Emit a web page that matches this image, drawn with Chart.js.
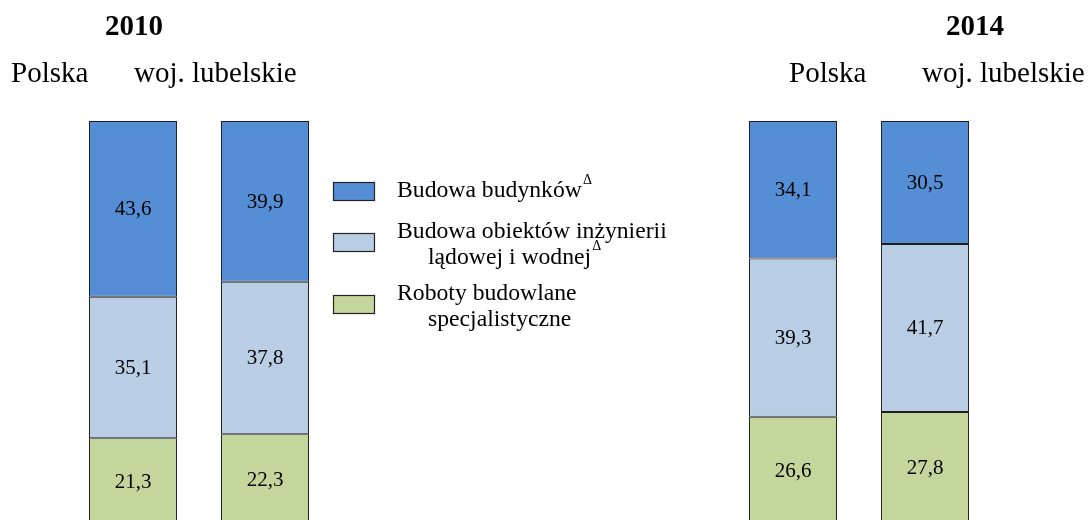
<!DOCTYPE html>
<html lang="pl">
<head>
<meta charset="utf-8">
<script src="https://cdn.jsdelivr.net/npm/chart.js@4"></script>
<style>
  html, body { margin: 0; padding: 0; background: #fff; overflow: hidden; }
  canvas { display: block; }
</style>
</head>
<body>
<canvas id="myChart" width="1088" height="524"></canvas>
<script>
/*
-------------------------------------
/// data
-------------------------------------
*/
const years = ['2010', '2014'];
const regions = ['Polska', 'woj. lubelskie'];

// struktura w %: 2010 Polska, 2010 lubelskie, 2014 Polska, 2014 lubelskie
const budynki = [43.6, 39.9, 34.1, 30.5];
const inzynieria = [35.1, 37.8, 39.3, 41.7];
const specjalistyczne = [21.3, 22.3, 26.6, 27.8];

const seriesNames = [
  ['Budowa budynków'],
  ['Budowa obiektów inżynierii', 'lądowej i wodnej'],
  ['Roboty budowlane', 'specjalistyczne']
];
const seriesDelta = [true, true, false];
const seriesColors = ['#558ed5', '#b9cde5', '#c3d69b'];

/*
-------------------------------------
/// slots (gap between years)
-------------------------------------
*/
const GAP = 3;
let labels = [];
years.forEach((y, yi) => {
  regions.forEach(r => labels.push(r));
  if (yi < years.length - 1) for (let g = 0; g < GAP; g++) labels.push('');
});

function spread(values) {
  let out = [];
  let k = 0;
  years.forEach((y, yi) => {
    regions.forEach(() => out.push(values[k++]));
    if (yi < years.length - 1) for (let g = 0; g < GAP; g++) out.push(null);
  });
  return out;
}

const SERIF = "'Liberation Serif', 'Times New Roman', serif";

/*
-------------------------------------
/// value labels inside segments
-------------------------------------
*/
const valueLabels = {
  id: 'valueLabels',
  afterDatasetsDraw(chart) {
    const ctx = chart.ctx;
    ctx.save();
    ctx.font = '21px ' + SERIF;
    ctx.fillStyle = '#000';
    ctx.textAlign = 'center';
    ctx.textBaseline = 'middle';
    chart.data.datasets.forEach((ds, di) => {
      const meta = chart.getDatasetMeta(di);
      meta.data.forEach((bar, i) => {
        const v = ds.data[i];
        if (v == null) return;
        ctx.fillText(v.toFixed(1).replace('.', ','), bar.x, (bar.y + bar.base) / 2 + 1);
      });
    });
    ctx.restore();
  }
};

/*
-------------------------------------
/// headers: years and regions
-------------------------------------
*/
const headers = {
  id: 'headers',
  afterDraw(chart) {
    const ctx = chart.ctx;
    ctx.save();
    ctx.fillStyle = '#000';
    ctx.textBaseline = 'middle';

    ctx.font = 'bold 29px ' + SERIF;
    ctx.textAlign = 'center';
    ctx.fillText(years[0], 134, 28);
    ctx.fillText(years[1], 975, 28);

    ctx.font = '29px ' + SERIF;
    ctx.textAlign = 'left';
    ctx.fillText(regions[0], 11, 74);
    ctx.fillText(regions[1], 134, 74);
    ctx.fillText(regions[0], 789, 74);
    ctx.fillText(regions[1], 922, 74);
    ctx.restore();
  }
};

/*
-------------------------------------
/// legend in the middle
-------------------------------------
*/
const middleLegend = {
  id: 'middleLegend',
  afterDraw(chart) {
    const ctx = chart.ctx;
    const swatchY = [182, 233, 295];
    const textY = [191, 232, 294];
    ctx.save();
    ctx.textBaseline = 'middle';
    ctx.textAlign = 'left';
    seriesNames.forEach((lines, i) => {
      ctx.fillStyle = seriesColors[i];
      ctx.fillRect(333, swatchY[i], 42, 19);
      ctx.strokeStyle = '#222';
      ctx.lineWidth = 1.2;
      ctx.strokeRect(333.5, swatchY[i] + 0.5, 41, 18);

      ctx.fillStyle = '#000';
      lines.forEach((line, li) => {
        const x = li === 0 ? 397 : 428;
        const y = textY[i] + li * 25.5;
        ctx.font = '23.7px ' + SERIF;
        ctx.fillText(line, x, y);
        if (seriesDelta[i] && li === lines.length - 1) {
          const w = ctx.measureText(line).width;
          ctx.font = '14px ' + SERIF;
          ctx.fillText('\u0394', x + w + 1, y - 11);
        }
      });
    });
    ctx.restore();
  }
};

/*
-------------------------------------
/// chart
-------------------------------------
*/
const ctx = document.getElementById('myChart').getContext('2d');
const myChart = new Chart(ctx, {
  type: 'bar',
  data: {
    labels: labels,
    datasets: [
      { label: seriesNames[2].join(' '), data: spread(specjalistyczne), backgroundColor: seriesColors[2] },
      { label: seriesNames[1].join(' '), data: spread(inzynieria), backgroundColor: seriesColors[1] },
      { label: seriesNames[0].join(' '), data: spread(budynki), backgroundColor: seriesColors[0] }
    ].map(ds => Object.assign(ds, {
      borderColor: '#1e1e1e',
      borderWidth: 1,
      borderSkipped: false,
      barPercentage: 1,
      categoryPercentage: 0.667
    }))
  },
  options: {
    responsive: false,
    animation: false,
    layout: { padding: { top: 121, bottom: 0, left: 67, right: 97 } },
    plugins: {
      legend: { display: false },
      tooltip: { enabled: false }
    },
    scales: {
      x: { stacked: true, display: false },
      y: { stacked: true, display: false, min: 0, max: 100 }
    }
  },
  plugins: [valueLabels, headers, middleLegend]
});
</script>
</body>
</html>
